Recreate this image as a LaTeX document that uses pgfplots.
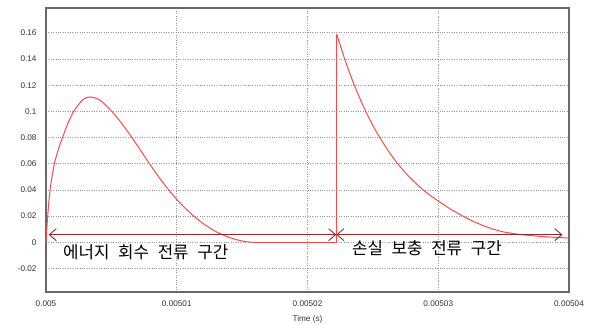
\documentclass[border=0pt]{standalone}
\usepackage{fontspec}
\setmainfont{Liberation Sans}
\newfontfamily\krfont[WordSpace=2.3]{Noto Sans CJK KR}
\usepackage{pgfplots}
\pgfplotsset{compat=1.18}
\usetikzlibrary{arrows.meta}

\definecolor{curvered}{RGB}{255,72,72}
\definecolor{arrowred}{RGB}{150,40,40}
\definecolor{framegray}{RGB}{105,105,105}
\definecolor{gridgray}{RGB}{150,150,150}

% x data: time after t = 0.005 s, in microseconds
\begin{document}
\begin{tikzpicture}
\begin{axis}[
  scale only axis,
  width=523pt, height=284pt,
  xmin=0, xmax=40,
  ymin=-0.038, ymax=0.179,
  scaled y ticks=false,
  xtick={0,10,20,30,40},
  xticklabels={0.005,0.00501,0.00502,0.00503,0.00504},
  ytick={-0.02,0,0.02,0.04,0.06,0.08,0.1,0.12,0.14,0.16},
  yticklabels={-0.02,0,0.02,0.04,0.06,0.08,0.1,0.12,0.14,0.16},
  major tick length=0pt,
  grid=major,
  grid style={gridgray, dotted, line width=0.8pt},
  axis line style={framegray, line width=1.3pt},
  tick label style={font=\fontsize{8.2}{9}\selectfont, text=black!80},
  xticklabel style={yshift=-5pt},
  yticklabel style={xshift=-6pt},
  xlabel={Time (s)},
  xlabel style={font=\fontsize{8.2}{9}\selectfont, text=black!80,
    at={(axis description cs:0.5,0)}, anchor=center, yshift=-27pt},
  clip=false,
]
% energy recovery current pulse
\addplot[curvered, line width=1pt, smooth, tension=0.5] coordinates {
  (0,0)
  (0.13,0.02)
  (0.31,0.04)
  (0.64,0.06)
  (0.95,0.071)
  (1.28,0.0805)
  (1.7,0.0915)
  (2.12,0.100)
  (2.7,0.1078)
  (3.0,0.110)
  (3.39,0.111)
  (4.1,0.1088)
  (4.9,0.1015)
  (5.7,0.0920)
  (6.5,0.0810)
  (7.3,0.0692)
  (8.1,0.0574)
  (8.9,0.0462)
  (9.7,0.0362)
  (10.5,0.0275)
  (11.3,0.0200)
  (12.1,0.0137)
  (12.9,0.0087)
  (13.7,0.0049)
  (14.5,0.0022)
  (15.2,0.0006)
  (15.8,0)
};
% idle interval and step
\addplot[curvered, line width=1pt] coordinates {
  (15.8,0)
  (22.23,0)
  (22.23,0.159)
};
% loss compensation current decay
\addplot[curvered, line width=1pt, smooth, tension=0.5] coordinates {
  (22.23,0.159)
  (23.0,0.1355)
  (23.8,0.1147)
  (24.6,0.0970)
  (25.4,0.0822)
  (26.2,0.0695)
  (27.0,0.0588)
  (27.8,0.0498)
  (28.6,0.0422)
  (29.4,0.0357)
  (30.2,0.0302)
  (31.0,0.0250)
  (31.8,0.0205)
  (32.6,0.0163)
  (33.4,0.0129)
  (34.2,0.0100)
  (35.0,0.0079)
  (35.8,0.0066)
  (36.6,0.0056)
  (37.4,0.0048)
  (38.2,0.0042)
  (39.0,0.0037)
  (40.0,0.0033)
};
% interval arrows
\addplot[arrowred, line width=0.9pt,
  {Straight Barb[length=7pt,width=12pt]}-{Straight Barb[length=7pt,width=12pt]}]
  coordinates {(0.2,0.0058) (22.2,0.0058)};
\addplot[arrowred, line width=0.9pt,
  {Straight Barb[length=7pt,width=12pt]}-{Straight Barb[length=7pt,width=12pt]}]
  coordinates {(22.2,0.0058) (39.5,0.0058)};
\node[anchor=west, inner sep=0, font=\krfont\fontsize{16.8}{18}\selectfont]
  at (axis cs:1.3,-0.0077) {에너지 회수 전류 구간};
\node[anchor=west, inner sep=0, font=\krfont\fontsize{16.8}{18}\selectfont]
  at (axis cs:23.4,-0.0046) {손실 보충 전류 구간};
\coordinate (sw) at (rel axis cs:0,0);
\coordinate (ne) at (rel axis cs:1,1);
\end{axis}
\pgfresetboundingbox
\path[use as bounding box] ([xshift=-46pt,yshift=-33pt]sw) rectangle ([xshift=25pt,yshift=8pt]ne);
\end{tikzpicture}
\end{document}
